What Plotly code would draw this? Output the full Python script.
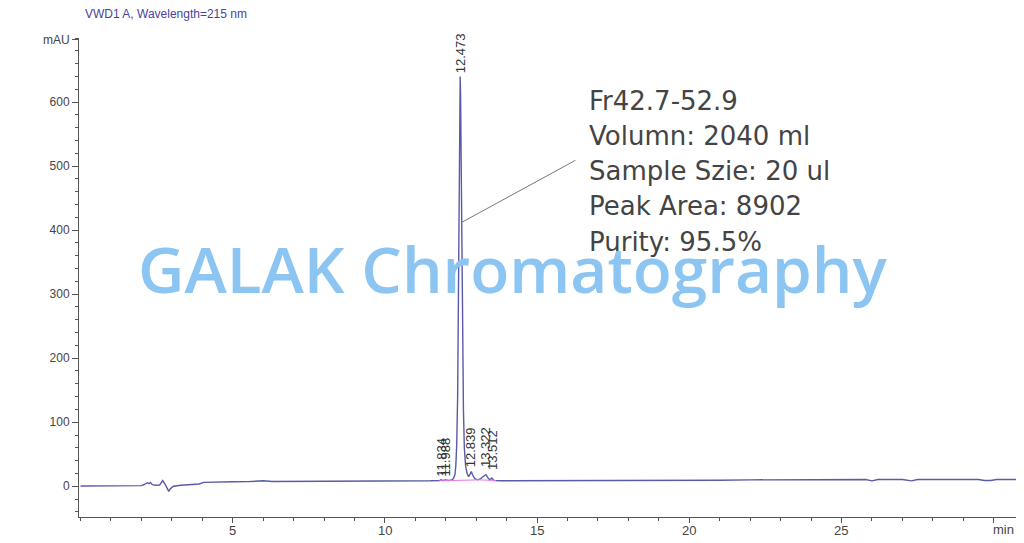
import plotly.graph_objects as go

# ---- data ----
time_min = [0.0, 0.5, 1.0, 1.5, 2.0, 2.1, 2.2, 2.25, 2.3, 2.35, 2.45, 2.6, 2.7, 2.78, 2.85, 2.9, 2.95,
            3.05, 3.3, 3.6, 3.9, 4.05, 4.3, 4.6, 5.0, 5.5, 6.0, 6.3, 7.0, 8.0, 9.0, 10.0, 11.0, 11.5,
            11.8, 11.834, 11.9, 11.988, 12.1, 12.2, 12.25, 12.3, 12.33, 12.36, 12.39, 12.42, 12.445,
            12.46, 12.473, 12.487, 12.5, 12.52, 12.55, 12.58, 12.61, 12.65, 12.7, 12.75, 12.8, 12.839,
            12.88, 12.95, 13.05, 13.15, 13.25, 13.322, 13.4, 13.45, 13.512, 13.58, 13.8, 14.5, 15.0,
            16.0, 17.0, 18.0, 19.0, 20.0, 21.0, 22.0, 23.0, 24.0, 25.0, 25.8, 26.0, 26.2, 27.0, 27.3,
            27.5, 28.5, 29.5, 29.7, 29.9, 30.1, 30.8]
signal_mau = [0.5, 0.5, 0.8, 0.5, 1.0, 3, 5.5, 4, 6, 3, 1.5, 2, 9, 3, -3, -8, -4,
              0, 1.5, 2, 3.5, 6, 6.5, 6.8, 7, 7.2, 8.5, 7.5, 7.5, 8, 8, 8.5, 8.5, 8.5,
              9, 10, 9, 10, 9, 10, 12, 18, 32, 65, 140, 290, 470,
              585, 640, 610, 540, 410, 240, 120, 60, 32, 20, 15, 19, 23,
              18, 12, 10, 12, 16, 18, 12, 10, 13, 9, 8.5, 8.5, 8.5,
              9, 9, 9, 9.5, 9.5, 9.5, 10, 10, 10, 10, 10.5, 8.5, 10.5, 10.5, 8.5,
              10.5, 10.5, 10.5, 9, 9, 10.5, 10.5]

# integration baseline (pink)
integ_time = [11.78, 12.2, 12.8, 13.1, 13.65]
integ_mau = [8.5, 9.0, 10.0, 10.0, 9.0]

peak_times = [11.834, 11.988, 12.473, 12.839, 13.322, 13.512]
peak_labels = ["11.834", "11.988", "12.473", "12.839", "13.322", "13.512"]
peak_label_y = [12, 12, 642, 27, 27, 22]

y_ticks = [0, 100, 200, 300, 400, 500, 600]
x_ticks = [5, 10, 15, 20, 25, 30]
x_label_ticks = [5, 10, 15, 20, 25]
x_tick_text = ["5", "10", "15", "20", "25"]

info_lines = ["Fr42.7-52.9", "Volumn: 2040 ml", "Sample Szie: 20 ul", "Peak Area: 8902", "Purity: 95.5%"]
info_y = [602, 547, 492, 437, 382]

title_text = "VWD1 A, Wavelength=215 nm"
watermark = "GALAK Chromatography"

# ---- figure ----
fig = go.Figure()
fig.add_trace(go.Scatter(x=time_min, y=signal_mau, mode="lines",
                         line=dict(color="#5a5aa8", width=1.4), hoverinfo="skip"))
fig.add_trace(go.Scatter(x=integ_time, y=integ_mau, mode="lines",
                         line=dict(color="#e27ae2", width=1), hoverinfo="skip"))

annotations = []
for t, lab, yy in zip(peak_times, peak_labels, peak_label_y):
    annotations.append(dict(x=t, y=yy, xref="x", yref="y", text=lab, textangle=-90,
                            showarrow=False, xanchor="center", yanchor="bottom",
                            font=dict(family="Liberation Sans, Arial", size=13, color="#333333")))
for line, yy in zip(info_lines, info_y):
    annotations.append(dict(x=0.541, y=yy, xref="paper", yref="y", text=line, showarrow=False,
                            xanchor="left", yanchor="middle",
                            font=dict(family="DejaVu Sans", size=26, color="#444444")))
# x tick labels, drawn a little lower than plotly's default position
for t, lab in zip(x_label_ticks, x_tick_text):
    annotations.append(dict(x=t, y=-0.0292, xref="x", yref="paper", text=lab, showarrow=False,
                            xanchor="center", yanchor="middle",
                            font=dict(family="Liberation Sans, Arial", size=13, color="#444444")))
annotations.append(dict(x=0.004, y=1.0505, xref="paper", yref="paper", text=title_text,
                        showarrow=False, xanchor="left", yanchor="middle",
                        font=dict(family="Liberation Sans, Arial", size=12, color="#4a42a0")))
annotations.append(dict(x=0.998, y=-0.0271, xref="paper", yref="paper", text="min", showarrow=False,
                        xanchor="right", yanchor="middle",
                        font=dict(family="Liberation Sans, Arial", size=13, color="#444444")))
annotations.append(dict(x=0.4617, y=0.519, xref="paper", yref="paper", text=watermark,
                        showarrow=False, xanchor="center", yanchor="middle",
                        font=dict(family="Open Sans", size=64, color="rgb(140,196,242)", weight=600)))

fig.add_shape(type="line", xref="x", yref="y", x0=16.26, y0=509, x1=12.52, y1=412,
              line=dict(color="#777777", width=1))

# page body adds an 8 px offset, so the figure is 8 px smaller on each axis
fig.update_layout(
    width=1016, height=535,
    margin=dict(l=71, r=6, t=30, b=26),
    plot_bgcolor="white", paper_bgcolor="white",
    showlegend=False,
    annotations=annotations,
    xaxis=dict(range=[-0.05, 30.8], tickvals=x_ticks, showticklabels=False, automargin=False,
               ticks="outside", ticklen=5, tickcolor="#555555",
               minor=dict(dtick=1, tick0=0, ticks="outside", ticklen=3, tickcolor="#555555"),
               showline=True, linecolor="#555555", linewidth=1, showgrid=False, zeroline=False),
    yaxis=dict(range=[-48, 700], tickvals=y_ticks + [697], ticktext=[str(v) for v in y_ticks] + ["mAU"],
               automargin=False,
               ticks="outside", ticklen=6, tickcolor="#555555",
               minor=dict(dtick=20, tick0=0, ticks="outside", ticklen=3, tickcolor="#555555"),
               showline=True, linecolor="#555555", linewidth=1, showgrid=False, zeroline=False,
               tickfont=dict(family="Liberation Sans, Arial", size=12, color="#444444")),
)

fig.write_html("out.html")
